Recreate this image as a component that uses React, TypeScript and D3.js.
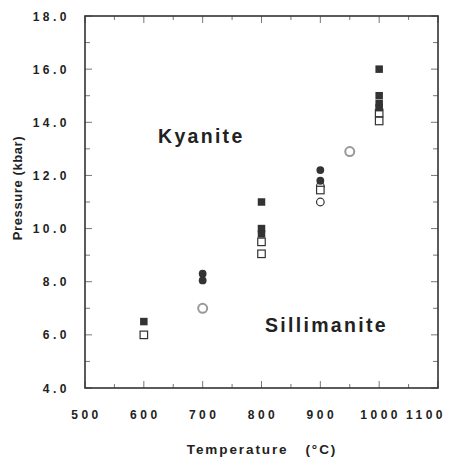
import React, { useEffect, useRef } from 'react';
import * as d3 from 'd3';

// [temperature °C, pressure kbar]
const filledSquares = [[600, 6.5], [800, 11.0], [800, 10.0], [800, 9.8], [1000, 16.0], [1000, 15.0], [1000, 14.7], [1000, 14.55]];
const openSquares = [[600, 6.0], [800, 9.5], [800, 9.05], [900, 11.45], [1000, 14.35], [1000, 14.05]];
const filledCircles = [[700, 8.3], [700, 8.05], [900, 12.2], [900, 11.8]];
const openCircles = [[900, 11.6], [900, 11.0]];
const grayCircles = [[700, 7.0], [950, 12.9]];

const xTicks = [500, 600, 700, 800, 900, 1000, 1100];
const yTicks = [4, 6, 8, 10, 12, 14, 16, 18];

const W = 458, H = 457;
const margin = { top: 16, right: 20, bottom: 69, left: 85 };

export default function App() {
    const ref = useRef<SVGSVGElement>(null);

    useEffect(() => {
        const svg = d3.select(ref.current);
        svg.selectAll("*").remove();

        const x = d3.scaleLinear().domain([500, 1100]).range([margin.left, W - margin.right]);
        const y = d3.scaleLinear().domain([4, 18]).range([H - margin.bottom, margin.top]);
        const font = "'Liberation Sans', Arial, sans-serif";
        const ink = "#333";

        // minor + major ticks, drawn inside on all four sides
        const g = svg.append("g");
        d3.range(500, 1101, 50).forEach(t => {
            const len = t % 100 === 0 ? 7 : 4;
            g.append("line").attr("x1", x(t)).attr("x2", x(t)).attr("y1", y(4)).attr("y2", y(4) - len).attr("stroke", "#777");
            g.append("line").attr("x1", x(t)).attr("x2", x(t)).attr("y1", y(18)).attr("y2", y(18) + len).attr("stroke", "#777");
        });
        d3.range(4, 18.01, 1).forEach(p => {
            const len = p % 2 === 0 ? 7 : 5;
            g.append("line").attr("y1", y(p)).attr("y2", y(p)).attr("x1", x(500)).attr("x2", x(500) + len).attr("stroke", "#777");
            g.append("line").attr("y1", y(p)).attr("y2", y(p)).attr("x1", x(1100)).attr("x2", x(1100) - len).attr("stroke", "#777");
        });

        svg.append("rect")
            .attr("x", x(500)).attr("y", y(18))
            .attr("width", x(1100) - x(500)).attr("height", y(4) - y(18))
            .attr("fill", "none").attr("stroke", ink).attr("stroke-width", 1.6);

        // the last label is pulled in so it stays on the page
        svg.append("g").selectAll("text").data(xTicks).enter().append("text")
            .attr("x", d => Math.min(x(d) + 1.5, 426)).attr("y", 419)
            .attr("text-anchor", "middle")
            .style("font", `bold 12px ${font}`).style("letter-spacing", "3.5px")
            .attr("fill", "#222").text(d => d);

        svg.append("g").selectAll("text").data(yTicks).enter().append("text")
            .attr("x", 70).attr("y", d => y(d) + 4.5)
            .attr("text-anchor", "end")
            .style("font", `bold 12px ${font}`).style("letter-spacing", "3.5px")
            .attr("fill", "#222").text(d => d.toFixed(1));

        svg.append("text")
            .attr("x", 262).attr("y", 454).attr("text-anchor", "middle")
            .style("font", `bold 13.5px ${font}`).style("letter-spacing", "1.9px")
            .style("white-space", "pre")
            .attr("fill", "#222").text("Temperature   (°C)");

        svg.append("text")
            .attr("transform", `translate(22,188) rotate(-90)`)
            .attr("text-anchor", "middle")
            .style("font", `bold 13px ${font}`).style("letter-spacing", "0.6px")
            .attr("fill", "#222").text("Pressure (kbar)");

        svg.append("text").attr("x", 158).attr("y", 143)
            .style("font", `bold 19.5px ${font}`).style("letter-spacing", "2.3px")
            .attr("fill", "#222").text("Kyanite");
        svg.append("text").attr("x", 265).attr("y", 332)
            .style("font", `bold 19.5px ${font}`).style("letter-spacing", "2.3px")
            .attr("fill", "#222").text("Sillimanite");

        const s = 7.5;
        const pts = svg.append("g");
        pts.selectAll(".gc").data(grayCircles).enter().append("circle")
            .attr("cx", d => x(d[0])).attr("cy", d => y(d[1])).attr("r", 4.5)
            .attr("fill", "white").attr("stroke", "#999").attr("stroke-width", 2);
        pts.selectAll(".oc").data(openCircles).enter().append("circle")
            .attr("cx", d => x(d[0])).attr("cy", d => y(d[1])).attr("r", 3.8)
            .attr("fill", "white").attr("stroke", ink).attr("stroke-width", 1.2);
        pts.selectAll(".os").data(openSquares).enter().append("rect")
            .attr("x", d => x(d[0]) - s / 2).attr("y", d => y(d[1]) - s / 2)
            .attr("width", s).attr("height", s)
            .attr("fill", "white").attr("stroke", ink).attr("stroke-width", 1.2);
        pts.selectAll(".fc").data(filledCircles).enter().append("circle")
            .attr("cx", d => x(d[0])).attr("cy", d => y(d[1])).attr("r", 3.9)
            .attr("fill", ink);
        pts.selectAll(".fs").data(filledSquares).enter().append("rect")
            .attr("x", d => x(d[0]) - s / 2).attr("y", d => y(d[1]) - s / 2)
            .attr("width", s).attr("height", s)
            .attr("fill", ink);
    }, []);

    return (
        <svg ref={ref} width={W} height={H}
            style={{ position: "absolute", left: 0, top: 0, background: "white" }} />
    );
}
